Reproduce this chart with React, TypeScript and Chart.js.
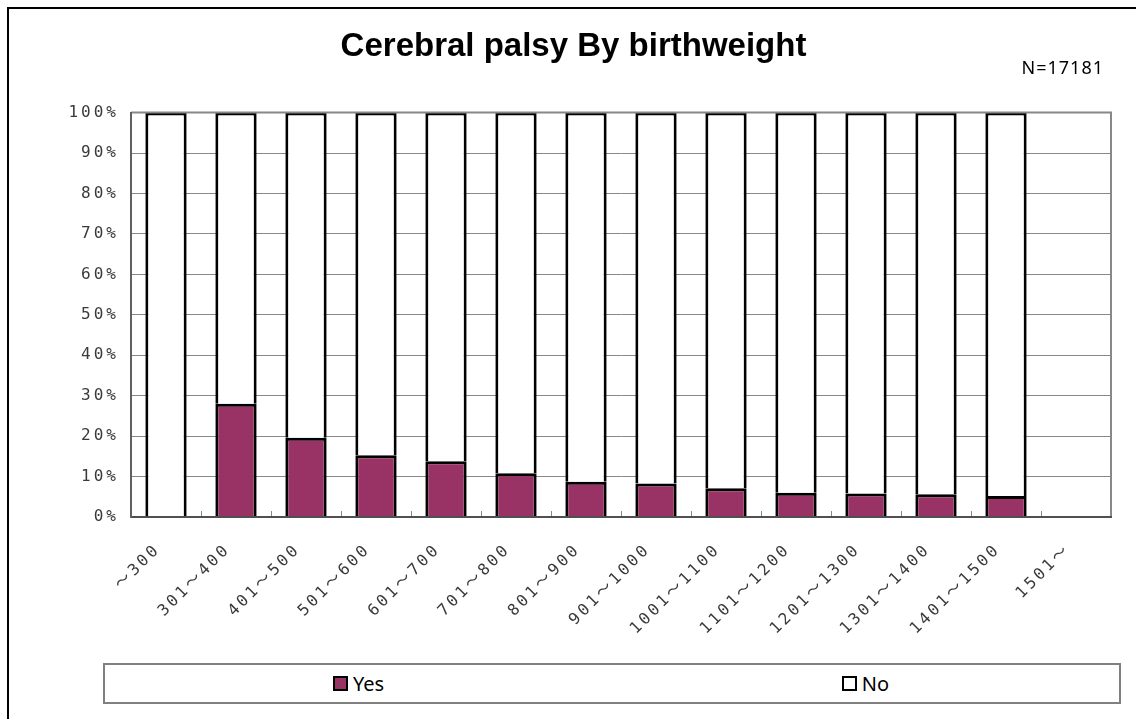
import React, { useEffect, useRef } from "react";
import { Chart, registerables } from "chart.js";

Chart.register(...registerables);

const TITLE = "Cerebral palsy By birthweight";
const NOTE = "N=17181";
const CATEGORIES = [
  "～300",
  "301～400",
  "401～500",
  "501～600",
  "601～700",
  "701～800",
  "801～900",
  "901～1000",
  "1001～1100",
  "1101～1200",
  "1201～1300",
  "1301～1400",
  "1401～1500",
  "1501～",
];
const SERIES_LABELS = ["Yes", "No"];
const YES_VALUES = [0, 28.0, 19.6, 15.3, 13.8, 10.8, 8.7, 8.3, 7.1, 6.0, 5.8, 5.6, 5.2, null];
const NO_VALUES = [100, 72.0, 80.4, 84.7, 86.2, 89.2, 91.3, 91.7, 92.9, 94.0, 94.2, 94.4, 94.8, null];
const SERIES_COLORS = ["#993366", "#ffffff"];
const Y_MAX = 100;
const Y_STEP = 10;

const TICK_FONT = "'DejaVu Sans Mono', 'Noto Sans CJK JP', monospace";
const TICK_SPACING = "3px";

const tickSpacingPlugin = {
  id: "tickSpacing",
  beforeDraw(chart: any) {
    for (const id of ["x", "y"]) {
      const s: any = chart.scales[id];
      if (s && !s.__spaced) {
        const orig = s.drawLabels.bind(s);
        s.drawLabels = (ca: any) => {
          const ctx: any = chart.ctx;
          ctx.save();
          ctx.letterSpacing = TICK_SPACING;
          orig(ca);
          ctx.restore();
        };
        s.__spaced = true;
      }
    }
  },
};

const framePlugin = {
  id: "plotFrame",
  afterDatasetsDraw(chart: any) {
    const { ctx, chartArea } = chart;
    ctx.save();
    ctx.strokeStyle = "#888888";
    ctx.lineWidth = 2;
    ctx.beginPath();
    ctx.moveTo(chartArea.left, chartArea.top);
    ctx.lineTo(chartArea.right, chartArea.top);
    ctx.lineTo(chartArea.right, chartArea.bottom);
    ctx.stroke();
    ctx.restore();
  },
};

const notePlugin = {
  id: "note",
  afterDraw(chart: any) {
    const { ctx, chartArea } = chart;
    ctx.save();
    ctx.letterSpacing = "1px";
    ctx.font = "18px 'Noto Sans', sans-serif";
    ctx.fillStyle = "#000";
    ctx.textAlign = "right";
    ctx.textBaseline = "alphabetic";
    ctx.fillText(NOTE, chartArea.right - 7, 74);
    ctx.restore();
  },
};

export default function App() {
  const ref = useRef<HTMLCanvasElement>(null);

  useEffect(() => {
    document.body.style.margin = "0";
    document.body.style.overflow = "hidden";
    const canvas = ref.current;
    if (!canvas) return;
    const chart = new Chart(canvas, {
      type: "bar",
      data: {
        labels: CATEGORIES,
        datasets: [
          {
            label: SERIES_LABELS[0],
            data: YES_VALUES as any,
            backgroundColor: SERIES_COLORS[0],
            borderColor: "#000",
            borderWidth: 3,
          },
          {
            label: SERIES_LABELS[1],
            data: NO_VALUES as any,
            backgroundColor: SERIES_COLORS[1],
            borderColor: "#000",
            borderWidth: 3,
          },
        ],
      },
      options: {
        animation: false,
        responsive: false,
        maintainAspectRatio: false,
        devicePixelRatio: 1,
        layout: { padding: { left: 36, right: 25, top: 0, bottom: 0 } },
        datasets: { bar: { categoryPercentage: 1, barPercentage: 0.59 } },
        plugins: {
          legend: { display: false },
          tooltip: { enabled: false },
          title: {
            display: true,
            text: TITLE,
            color: "#000",
            font: { family: "'Liberation Sans', Arial, sans-serif", size: 33, weight: "bold" },
            padding: { top: 27, bottom: 46 },
          },
        },
        scales: {
          x: {
            stacked: true,
            afterFit: (s: any) => {
              s.height = 202;
            },
            grid: {
              display: true,
              drawOnChartArea: false,
              drawTicks: true,
              tickLength: -6,
              color: "#888888",
              lineWidth: 1,
              offset: true,
            },
            border: { display: true, color: "#505050", width: 2, z: 1 },
            ticks: {
              autoSkip: false,
              minRotation: 45,
              maxRotation: 45,
              padding: 29,
              labelOffset: -8,
              color: "#3a3a3a",
              font: { family: TICK_FONT, size: 16 },
            },
          },
          y: {
            stacked: true,
            min: 0,
            max: Y_MAX,
            afterFit: (s: any) => {
              s.width = 95;
            },
            grid: {
              color: "#888888",
              lineWidth: 1,
              drawTicks: false,
            },
            border: { display: true, color: "#606060", width: 2, z: 1 },
            ticks: {
              stepSize: Y_STEP,
              padding: 12,
              color: "#3a3a3a",
              font: { family: TICK_FONT, size: 16 },
              callback: (v: any) => v + "%",
            },
          },
        },
      },
      plugins: [tickSpacingPlugin, framePlugin, notePlugin],
    });
    return () => chart.destroy();
  }, []);

  return (
    <div>
      <div
        style={{
          position: "absolute",
          left: 7,
          top: 7,
          width: 1129,
          height: 712,
          boxSizing: "border-box",
          borderTop: "2px solid #000",
          borderLeft: "2px solid #000",
        }}
      />
      <canvas
        ref={ref}
        width={1136}
        height={719}
        style={{ position: "absolute", left: 0, top: 0, width: 1136, height: 719 }}
      />
      <div
        style={{
          position: "absolute",
          left: 103,
          top: 663,
          width: 1018,
          height: 41,
          boxSizing: "border-box",
          border: "2px solid #808080",
          display: "flex",
          background: "#fff",
        }}
      >
        {SERIES_LABELS.map((label, i) => (
          <div
            key={label}
            style={{ flex: 1, display: "flex", alignItems: "center", justifyContent: "center" }}
          >
            <span
              style={{
                display: "inline-block",
                width: 15,
                height: 15,
                boxSizing: "border-box",
                border: "2px solid #000",
                background: SERIES_COLORS[i],
                marginRight: 5,
              }}
            />
            <span style={{ fontFamily: "'Noto Sans', sans-serif", fontSize: 20, color: "#000", lineHeight: "24px" }}>
              {label}
            </span>
          </div>
        ))}
      </div>
    </div>
  );
}
